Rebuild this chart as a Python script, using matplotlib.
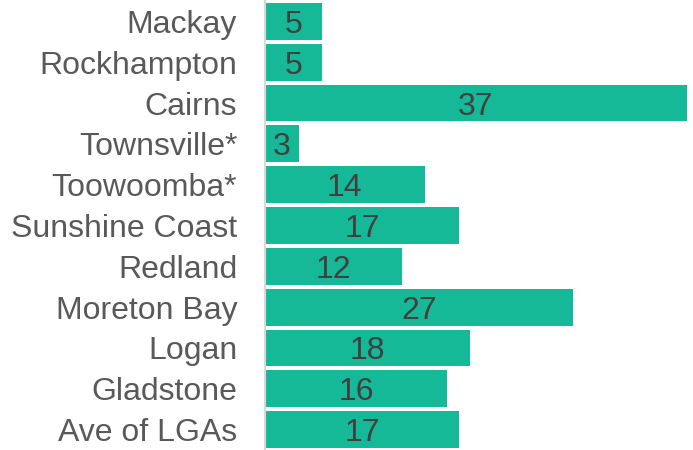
import matplotlib.pyplot as plt

plt.rcParams['font.family'] = ['Liberation Sans', 'DejaVu Sans']

# dados, de cima para baixo
regioes = ['Mackay', 'Rockhampton', 'Cairns', 'Townsville*', 'Toowoomba*',
           'Sunshine Coast', 'Redland', 'Moreton Bay', 'Logan', 'Gladstone',
           'Ave of LGAs']
valores = [5, 5, 37, 3, 14, 17, 12, 27, 18, 16, 17]

fig = plt.figure(figsize=(6.93, 4.5), dpi=100)
ax = fig.add_axes([265 / 693, 0.0, (687 - 265) / 693, 449 / 450])

pos = list(range(len(regioes)))
barras = ax.barh(pos, valores, height=0.9, color='#15B897')
ax.set_ylim(len(regioes) - 0.5, -0.5)
ax.set_xlim(0, 37)

for b, v in zip(barras, valores):
    ax.text(b.get_width() / 2, b.get_y() + b.get_height() / 2, str(v),
            ha='center', va='center_baseline', fontsize=23, color='#404040')

ax.set_yticks(pos)
ax.set_yticklabels(regioes, fontsize=23, color='#595959')
ax.tick_params(axis='y', length=0, pad=20)
ax.set_xticks([])
for lado in ['top', 'right', 'bottom']:
    ax.spines[lado].set_visible(False)
ax.spines['left'].set_color('#D9D9D9')
ax.spines['left'].set_linewidth(1.5)

fig.savefig('out.png', dpi=100)
